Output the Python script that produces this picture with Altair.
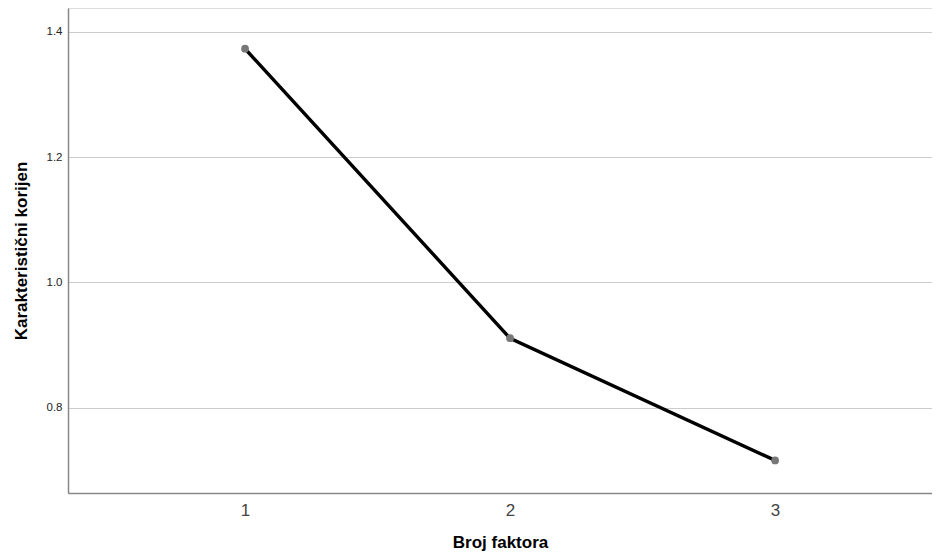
import altair as alt
import pandas as pd

factors = [1, 2, 3]
eigenvalues = [1.373, 0.911, 0.716]
y_ticks = [0.8, 1.0, 1.2, 1.4]

df = pd.DataFrame({"factor": factors, "eigen": eigenvalues})

font = "Liberation Sans"

x_enc = alt.X(
    "factor:Q",
    scale=alt.Scale(domain=[0.332, 3.592], nice=False, zero=False),
    axis=alt.Axis(
        title="Broj faktora",
        values=factors,
        format="d",
        grid=False,
        ticks=False,
        domainColor="#888888",
        domainWidth=1.5,
        labelFontSize=17,
        labelColor="#444444",
        labelFont=font,
        labelPadding=9,
        titleFont=font,
        titleFontSize=17,
        titleFontWeight="bold",
        titleColor="#000000",
        titleY=54,
        titleBaseline="alphabetic",
    ),
)
y_enc = alt.Y(
    "eigen:Q",
    scale=alt.Scale(domain=[0.664, 1.438], nice=False, zero=False),
    axis=alt.Axis(
        title="Karakteristični korijen",
        values=y_ticks,
        format=".1f",
        grid=True,
        gridColor="#cccccc",
        gridWidth=1,
        ticks=False,
        domainColor="#888888",
        domainWidth=1.5,
        labelFontSize=11.5,
        labelColor="#222222",
        labelFont=font,
        labelPadding=6,
        titleFont=font,
        titleFontSize=17,
        titleFontWeight="bold",
        titleColor="#000000",
        titleX=-47,
        titleBaseline="middle",
    ),
)

base = alt.Chart(df).encode(x=x_enc, y=y_enc)
line = base.mark_line(color="#000000", strokeWidth=3.4)
points = base.mark_circle(color="#777777", size=60, opacity=1)

chart = (
    (line + points)
    .properties(
        width=864,
        height=485,
        autosize=alt.AutoSizeParams(type="none"),
        padding={"left": 60, "top": 0, "right": 0, "bottom": 59},
    )
    .configure_view(stroke=None)
    .configure(background="white")
)

chart.save("out.html", embed_options={"renderer": "svg", "actions": False})
